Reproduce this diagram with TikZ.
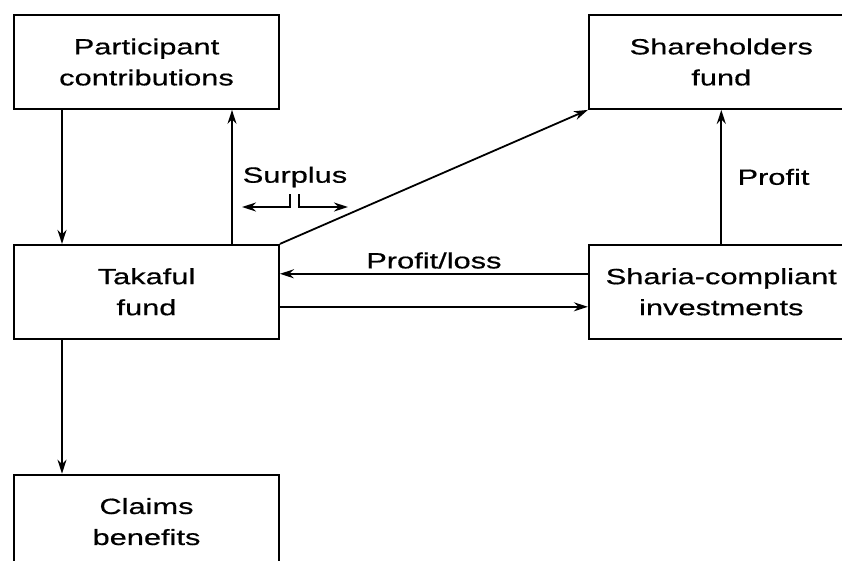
\documentclass[tikz,border=0pt]{standalone}
\usepackage{fontspec}
\setmainfont[FakeStretch=1.4,FakeBold=0.6]{Liberation Sans}
\usetikzlibrary{arrows.meta,positioning}

\begin{document}
\begin{tikzpicture}[x=1pt,y=-1pt,>={Stealth[length=14pt,width=9pt]},line width=1.8pt,node distance=134pt and 308pt,
    every node/.style={font=\fontsize{22}{31}\selectfont},
    box/.style={draw,minimum width=265pt,minimum height=94pt,align=center,inner sep=0pt}]

                \useasboundingbox (0,0) rectangle (842,560);

                \node[box] (part) at (146.5,62) {Participant\\contributions};

                \node[box] (share) [right=of part] {Shareholders\\fund};

                \node[box] (takaful) [below=of part] {Takaful\\fund};

                \node[box] (sharia) [below=of share] {Sharia-compliant\\investments};

                \node[box] (claims) [below=of takaful] {Claims\\benefits};

                \node (surplus) at (295,177) {Surplus};

                \coordinate (sleft) at (242,207);

                \coordinate (sright) at (348,207);

                

                \draw[->] ([xshift=-84.5pt]part.south) -- ([xshift=-84.5pt]takaful.north);

                \draw[->] ([xshift=85.5pt]takaful.north) -- ([xshift=85.5pt]part.south);

                \draw[->] ([xshift=-5pt,yshift=-3pt]surplus.south) |- (sleft);

                \draw[->] ([xshift=4pt,yshift=-3pt]surplus.south) |- (sright);

                \draw[->] (takaful.north east) -- (share.south west);

                \draw[->] ([yshift=18pt]sharia.west) -- node[above=1pt] {Profit/loss} ([yshift=18pt]takaful.east);

                \draw[->] ([yshift=-15pt]takaful.east) -- ([yshift=-15pt]sharia.west);

                \draw[->] (sharia.north) -- node[right=12pt] {Profit} (share.south);

                \draw[->] ([xshift=-84.5pt]takaful.south) -- ([xshift=-84.5pt]claims.north);

            \end{tikzpicture}
\end{document}
